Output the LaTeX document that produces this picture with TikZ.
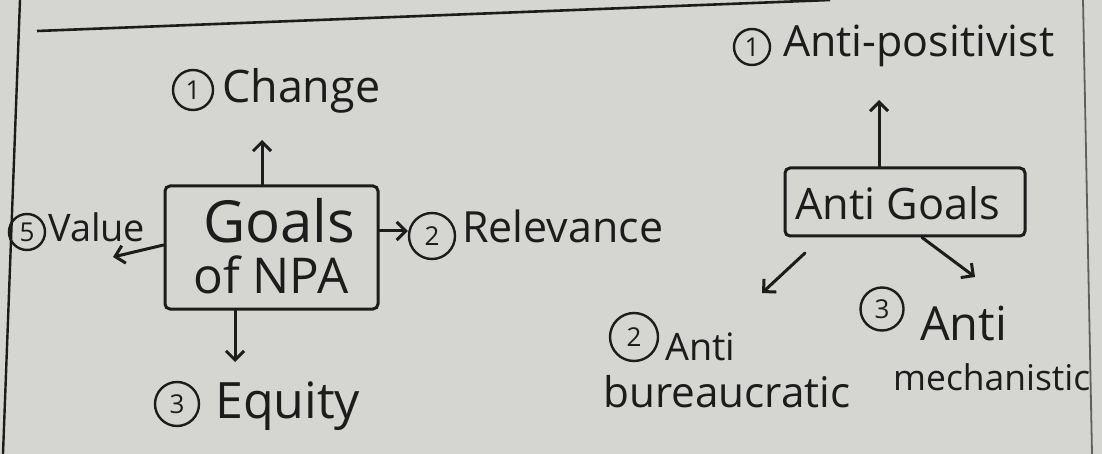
\documentclass[tikz,border=0pt]{standalone}
\usepackage{fontspec}
\setmainfont{Open Sans}
\usepackage{graphicx}
\usetikzlibrary{arrows.meta}
\definecolor{paper}{RGB}{213,213,209}
\definecolor{ink}{RGB}{28,28,28}
\definecolor{rule}{RGB}{95,95,95}
\begin{document}
\begin{tikzpicture}[x=1pt,y=-1pt,
  hw/.style={text=ink, inner sep=0pt, anchor=base west},
  num/.style={draw=ink, circle, line width=2.4pt, inner sep=0pt, minimum size=#1, text=ink, font=\fontsize{26}{28}\selectfont},
  conn/.style={draw=ink, line width=3pt, line cap=round, -{Straight Barb[length=9pt,width=18pt,line width=3pt]}},
  boxx/.style={draw=ink, line width=3pt, rounded corners=5pt, inner sep=0pt}]
\fill[paper] (0,0) rectangle (1102,454);
\useasboundingbox (0,0) rectangle (1102,454);
% page rulings
\draw[ink, line width=2.6pt] (37,31) -- (830,0);
\draw[ink, line width=2.4pt] (20,0) -- (3,454);
\draw[rule, line width=1.8pt] (1083,0) -- (1092,454);

% ---- left cluster ----
\node[boxx, minimum width=213pt, minimum height=123pt] (goals) at (271.5,247.5) {};
\node[hw] (goalsA) at (203,243) {\resizebox{152pt}{!}{Goals}};
\node[hw] (goalsB) at (193,293) {\resizebox{155pt}{!}{of NPA}};

\node[num=40pt] (n1) at (193,90) {1};
\node[hw] (change) at (222,103) {\resizebox{158pt}{!}{Change}};

\node[num=36pt] (n5) at (27,232) {5};
\node[hw] (value) at (48,242) {\resizebox{97pt}{!}{Value}};

\node[num=46pt] (n2) at (432,236) {2};
\node[hw] (relev) at (462,243) {\resizebox{201pt}{!}{Relevance}};

\node[num=44pt] (n3) at (177,404) {3};
\node[hw] (equity) at (215,418) {\resizebox{145pt}{!}{Equity}};

\coordinate (gU) at (262,140);
\coordinate (gL) at (113,257);
\coordinate (gD) at (235,362);
\draw[conn] (goals.north -| gU) -- (gU);
\draw[conn] (goals.west |- 0,245) -- (gL);
\draw[conn] (goals.east |- 0,231) -- (n2.west |- 0,231);
\draw[conn] (goals.south -| gD) -- (gD);

% ---- right cluster ----
\node[boxx, minimum width=240pt, minimum height=68pt] (anti) at (905,202) {};
\node[hw] (antiT) at (795,220) {\resizebox{205pt}{!}{Anti Goals}};

\node[num=36pt] (m1) at (752,47) {1};
\node[hw] (posit) at (783,57) {\resizebox{271pt}{!}{Anti-positivist}};

\node[num=48pt] (m2) at (634,337) {2};
\node[hw] (anti2) at (665,360) {\resizebox{70pt}{!}{Anti}};
\node[hw] (bureau) at (603,407) {\resizebox{247pt}{!}{bureaucratic}};

\node[num=43pt] (m3) at (882,309) {3};
\node[hw] (anti3) at (920,340) {\resizebox{87pt}{!}{Anti}};
\node[hw] (mech) at (893,390) {\resizebox{197pt}{!}{mechanistic}};

\coordinate (aU) at (879,100);
\coordinate (aL) at (762,293);
\coordinate (aR) at (975,277);
\draw[conn] (anti.north -| aU) -- (aU);
\draw[conn] (805,253) -- (aL);
\draw[conn] (anti.south -| 922,0) -- (aR);
\end{tikzpicture}
\end{document}
